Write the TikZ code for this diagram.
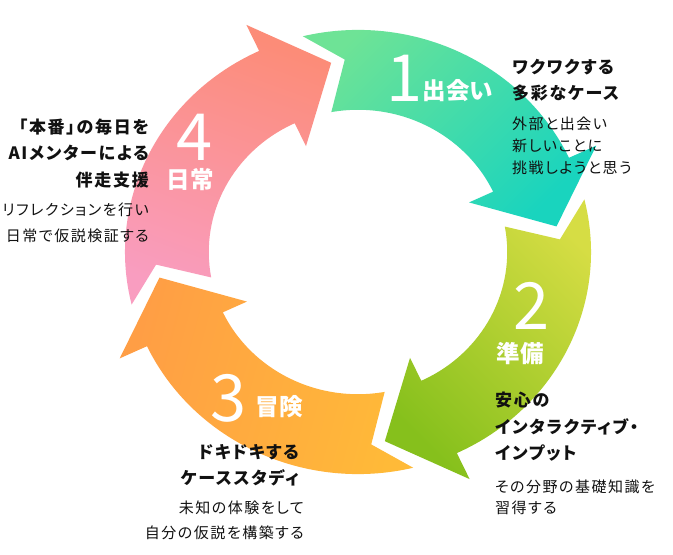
\documentclass[tikz,border=0pt]{standalone}
\usepackage{fontspec}
\setmainfont{Noto Sans CJK JP}[RawFeature=+palt]
\newfontfamily\jpfont{Noto Sans CJK JP}[LetterSpace=10,RawFeature=+palt]
\newfontfamily\numfont{Noto Sans CJK JP}
\definecolor{gA}{HTML}{6EE396}
\definecolor{gB}{HTML}{19D4BE}
\definecolor{yA}{HTML}{D6DD44}
\definecolor{yB}{HTML}{86C01C}
\definecolor{oA}{HTML}{FF9E45}
\definecolor{oB}{HTML}{FFBA38}
\definecolor{pA}{HTML}{FC8C78}
\definecolor{pB}{HTML}{F99DC0}
\definecolor{inkc}{HTML}{111111}
\tikzset{
  numtext/.style={text=white, font=\numfont\fontsize{65}{65}\selectfont, inner sep=0},
  labeltext/.style={text=white, font=\bfseries\fontsize{23.5}{23.5}\selectfont, inner sep=0},
  headtext/.style={text=inkc, font=\jpfont\bfseries\fontsize{17}{17}\selectfont, inner sep=0},
  bodytext/.style={text=inkc, font=\jpfont\fontsize{15}{15}\selectfont, inner sep=0},
}
\newcommand\cyclearrow[2]{%
  \path[#2] ({103.7+#1}:228) -- ({93.75+#1}:198) -- ({100.3+#1}:146)
    arc[start angle={100.3+#1}, end angle={25.1+#1}, radius=146pt]
    -- ({25.1+#1}:120) -- ({7.7+#1}:196) -- ({25.1+#1}:257.5) -- ({25.1+#1}:228)
    arc[start angle={25.1+#1}, end angle={103.7+#1}, radius=228pt] -- cycle;
}
\begin{document}
\begin{tikzpicture}[x=1pt,y=1pt]
\useasboundingbox (0,0) rectangle (673,555);
\fill[white] (0,0) rectangle (673,555);
\begin{scope}[shift={(358,303)}, xscale=1.022, yscale=0.974]
  \cyclearrow{0}{shade, top color=gA, bottom color=gB, shading angle=45}
  \cyclearrow{-90}{shade, top color=yA, bottom color=yB, shading angle=-45}
  \cyclearrow{-180}{shade, top color=oA, bottom color=oB, shading angle=75}
  \cyclearrow{-270}{shade, top color=pA, bottom color=pB, shading angle=-20}
\end{scope}
% step labels
\node[numtext] (n1) at (405,477) {1};
\node[labeltext] (l1) at (458,464) {出会い};
\node[numtext] (n2) at (532,249) {2};
\node[labeltext] (l2) at (520,201) {準備};
\node[numtext] (n3) at (229,157) {3};
\node[labeltext] (l3) at (279,148) {冒険};
\node[numtext] (n4) at (195,418) {4};
\node[labeltext] (l4) at (190,375) {日常};
% right top
\node[headtext, anchor=west] (t1a) at (512,488) {ワクワクする};
\node[headtext, anchor=west] (t1b) at (512,462) {多彩なケース};
\node[bodytext, anchor=west] (t1c) at (512,431) {外部と出会い};
\node[bodytext, anchor=west] (t1d) at (512,409) {新しいことに};
\node[bodytext, anchor=west] (t1e) at (512,387) {挑戦しようと思う};
% right bottom
\node[headtext, anchor=west] (t2a) at (495,155) {安心の};
\node[headtext, anchor=west] (t2b) at (495,128) {インタラクティブ・};
\node[headtext, anchor=west] (t2c) at (495,102) {インプット};
\node[bodytext, anchor=west] (t2d) at (495,68) {その分野の基礎知識を};
\node[bodytext, anchor=west] (t2e) at (495,47) {習得する};
% bottom left
\node[headtext, anchor=east] (t3a) at (299,103) {ドキドキする};
\node[headtext, anchor=east] (t3b) at (299,77) {ケーススタディ};
\node[bodytext, anchor=east] (t3c) at (304,47) {未知の体験をして};
\node[bodytext, anchor=east] (t3d) at (304,22) {自分の仮説を構築する};
% left
\node[headtext, anchor=east] (t4a) at (149,428) {「本番」の毎日を};
\node[headtext, anchor=east] (t4b) at (149,402) {AIメンターによる};
\node[headtext, anchor=east] (t4c) at (149,375) {伴走支援};
\node[bodytext, anchor=east] (t4d) at (149,345) {リフレクションを行い};
\node[bodytext, anchor=east] (t4e) at (149,319) {日常で仮説検証する};
\end{tikzpicture}
\end{document}
